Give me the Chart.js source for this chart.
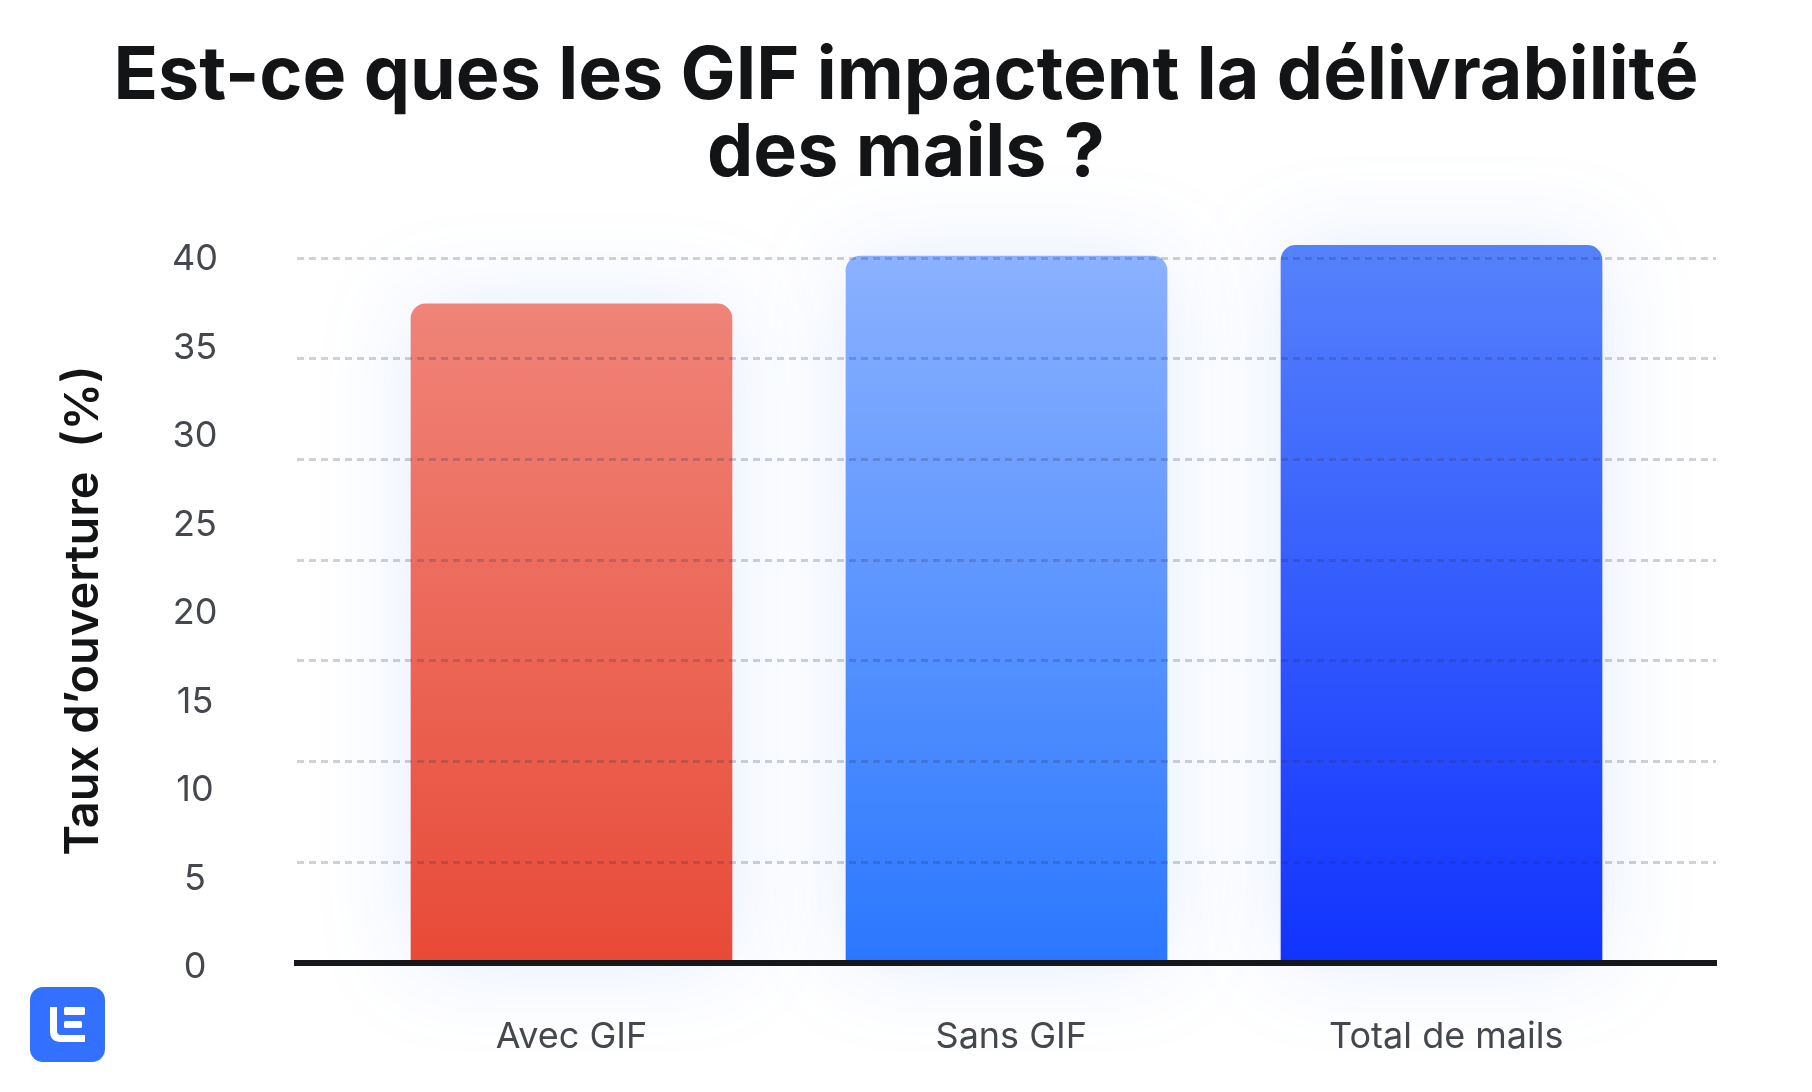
<!DOCTYPE html>
<html lang="fr">
<head>
<meta charset="utf-8">
<title>GIF et délivrabilité</title>
<style>
  html, body { margin: 0; padding: 0; background: #fff; }
  #wrap { position: relative; width: 1812px; height: 1092px; overflow: hidden; }
  #logo { position: absolute; left: 30px; top: 987px; width: 75px; height: 75px; }
</style>
<script src="https://cdn.jsdelivr.net/npm/chart.js@4/dist/chart.umd.min.js"></script>
</head>
<body>
<div id="wrap">
  <canvas id="chart" width="1812" height="1092"></canvas>
  <svg id="logo" viewBox="0 0 75 75">
    <rect width="75" height="75" rx="13" fill="#3370ff"/>
    <path d="M23.5 20V44q0 7.5 7.5 7.5H55" fill="none" stroke="#fff" stroke-width="7"/>
    <rect x="34" y="20" width="21" height="8" rx="1.5" fill="#fff"/>
    <rect x="34" y="34" width="18" height="7" rx="1.5" fill="#fff"/>
  </svg>
</div>
<script>
const categories = ['Avec GIF', 'Sans GIF', 'Total de mails'];
const openRates = [37.5, 40.2, 40.8];
const yTicks = [0, 5, 10, 15, 20, 25, 30, 35, 40];
// the dashed lines of the original do not sit on the labelled ticks
const guideLines = [1, 2, 3, 4, 5, 6, 7];

const titleLines = ['Est-ce ques les GIF impactent la délivrabilité', 'des mails ?'];
const yTitle = "Taux d’ouverture  (%) ";

// top / bottom colour of each bar
const barTop = ['#ef8478', '#8bb1ff', '#5582fb'];
const barBottom = ['#e84a37', '#2a77ff', '#1133ff'];

const axisBase = 0.25;
// labels of the 2nd and 3rd bars sit slightly right of the bar centre
const labelAt = [0, 1.011, 2.011];
const fontFamily = 'Inter, sans-serif';

function vGradient(ctx) {
  const { chart, dataIndex } = ctx;
  const y = chart.scales.y;
  if (!y || dataIndex === undefined) return barTop[0];
  const y0 = y.getPixelForValue(openRates[dataIndex]);
  const y1 = y.getPixelForValue(axisBase);
  // scale has no pixels yet before the first layout
  if (!Number.isFinite(y0) || !Number.isFinite(y1)) return barTop[dataIndex];
  const g = chart.ctx.createLinearGradient(0, y0, 0, y1);
  g.addColorStop(0, barTop[dataIndex]);
  g.addColorStop(1, barBottom[dataIndex]);
  return g;
}

// soft blue glow behind the bars
const glow = {
  id: 'glow',
  beforeDatasetsDraw(chart) {
    const c = chart.ctx;
    c.save();
    c.shadowColor = 'rgba(60, 115, 245, 0.14)';
    c.shadowBlur = 90;
  },
  afterDatasetsDraw(chart) {
    chart.ctx.restore();
  }
};

new Chart(document.getElementById('chart'), {
  type: 'bar',
  data: {
    datasets: [{
      data: openRates.map((v, i) => ({ x: i, y: v })),
      base: axisBase,
      barThickness: 321,
      clip: false,
      borderRadius: { topLeft: 15, topRight: 15 },
      borderSkipped: false,
      borderWidth: 0,
      backgroundColor: vGradient
    }]
  },
  plugins: [glow],
  options: {
    responsive: false,
    animation: false,
    devicePixelRatio: 1,
    layout: { padding: { left: 0, right: 0, top: 0, bottom: 124.5 } },
    plugins: {
      legend: { display: false },
      tooltip: { enabled: false },
      title: {
        display: true,
        text: titleLines,
        color: '#131416',
        font: { family: fontFamily, size: 73.5, weight: '700', lineHeight: 1.04 },
        padding: { top: 39, bottom: 50 }
      }
    },
    scales: {
      x: {
        type: 'linear',
        axis: 'x',
        position: { y: axisBase },
        offset: false,
        min: -0.631,
        max: 2.631,
        afterBuildTicks: s => { s.ticks = labelAt.map(v => ({ value: v })); },
        grid: { display: false },
        border: { color: '#16171a', width: 6, z: 1 },
        ticks: {
          autoSkip: false,
          maxRotation: 0,
          padding: 44,
          color: '#44474d',
          font: { family: fontFamily, size: 36 },
          callback: (v, i) => categories[i]
        }
      },
      y: {
        min: 0,
        max: 41,
        afterBuildTicks: s => { s.ticks = yTicks.map(v => ({ value: v })); },
        afterFit: s => { s.width = 297; },
        grid: { display: false },
        border: { display: false },
        ticks: {
          padding: 71,
          crossAlign: 'center',
          color: '#44474d',
          font: { family: fontFamily, size: 36 }
        },
        title: {
          display: true,
          text: yTitle,
          color: '#131416',
          font: { family: fontFamily, size: 47, weight: '600' },
          padding: { top: 56, bottom: 0 }
        }
      },
      // dashed guide lines, evenly spaced and independent of the tick labels
      yGuides: {
        position: 'right',
        min: -0.045,
        max: 7.161,
        afterBuildTicks: s => { s.ticks = guideLines.map(v => ({ value: v })); },
        afterFit: s => { s.width = 96; },
        ticks: { display: false },
        grid: { z: 1, drawTicks: false, color: 'rgba(40, 45, 80, 0.22)', lineWidth: 3 },
        border: { display: false, dash: [7, 5] }
      }
    }
  }
});
</script>
</body>
</html>
